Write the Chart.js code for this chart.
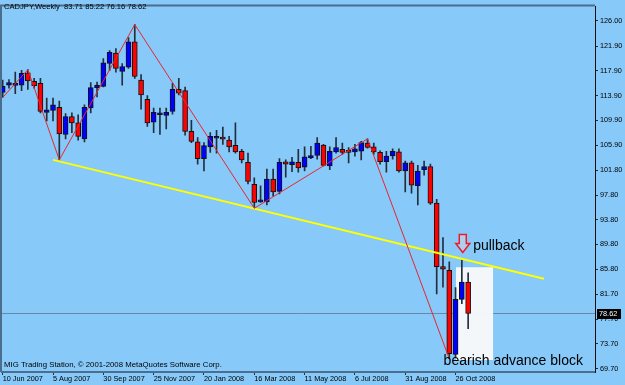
<!DOCTYPE html>
<html>
<head>
<meta charset="utf-8">
<title>CADJPY, Weekly</title>
<script src="https://cdn.jsdelivr.net/npm/chart.js@4.4.0/dist/chart.umd.min.js"></script>
<style>
html, body {margin: 0; padding: 0; background: #87c9f8;}
canvas {display: block;}
</style>
</head>
<body>
<canvas id="chart" width="625" height="385"></canvas>
<script>
//Weekly CADJPY candles, one per week from 10 Jun 2007 to 9 Nov 2008
const opens = [114.4, 115.6, 115.55, 115.6, 117.6, 116.2, 115.9, 111.2, 111.5, 112.0,
	107.6, 110.5, 109.5, 106.9, 111.9, 115.2, 115.4, 119.1, 120.8, 117.8,
	118.5, 122.6, 116.4, 113.3, 109.6, 110.8, 110.7, 111.35, 114.9, 114.7,
	108.1, 106.4, 103.7, 105.6, 107.0, 107.2, 106.7, 105.85, 104.9, 103.1,
	99.55, 96.7, 96.7, 100.4, 98.4, 103.2, 102.7, 103.1, 102.3, 103.8,
	104.2, 105.9, 102.5, 104.8, 105.2, 104.9, 104.8, 104.9, 106.2, 105.6,
	104.7, 103.2, 104.15, 104.8, 101.7, 103.0, 99.3, 101.9, 102.4, 96.5,
	86.2, 85.6, 72.0, 80.9, 83.71];
const highs = [116.4, 116.5, 117.7, 118.0, 118.1, 116.7, 116.7, 113.5, 113.5, 113.0,
	111.0, 111.1, 110.8, 112.4, 116.0, 116.1, 119.9, 121.2, 121.5, 119.1,
	123.3, 125.4, 117.3, 113.9, 111.9, 111.9, 111.9, 115.9, 116.7, 115.3,
	109.9, 107.1, 106.3, 107.9, 108.3, 108.8, 107.3, 109.5, 105.2, 104.6,
	100.6, 99.3, 102.0, 102.0, 103.7, 103.5, 103.9, 105.2, 105.6, 105.7,
	107.1, 106.0, 105.6, 107.1, 106.2, 105.5, 106.0, 106.5, 106.9, 106.2,
	104.95, 104.9, 105.3, 105.3, 103.3, 103.3, 102.6, 103.3, 102.8, 97.1,
	90.9, 87.0, 82.8, 87.3, 85.22];
const lows = [113.6, 115.1, 114.2, 114.7, 114.9, 115.1, 111.1, 109.8, 109.8, 103.5,
	106.9, 107.9, 106.7, 106.4, 111.1, 113.7, 115.3, 118.0, 117.7, 115.6,
	118.3, 116.7, 111.7, 108.9, 107.9, 107.6, 108.5, 110.9, 114.0, 107.5,
	106.3, 102.8, 101.7, 104.7, 104.6, 106.0, 104.8, 104.6, 103.0, 99.6,
	95.65, 96.6, 96.2, 97.6, 98.0, 100.7, 101.6, 101.5, 101.7, 103.7,
	103.6, 102.5, 101.9, 104.6, 104.4, 103.0, 104.1, 103.5, 105.4, 104.4,
	102.8, 101.5, 103.6, 101.5, 98.3, 98.1, 96.2, 101.0, 96.3, 81.8,
	82.9, 71.3, 71.6, 80.2, 76.16];
const closes = [115.4, 116.0, 115.75, 117.5, 116.3, 115.5, 111.35, 111.6, 112.4, 107.7,
	110.5, 109.5, 107.3, 112.0, 115.2, 115.6, 119.2, 120.9, 118.3, 118.6,
	122.6, 117.0, 114.0, 109.5, 111.2, 111.05, 111.2, 114.9, 114.3, 108.1,
	106.5, 103.7, 105.8, 107.3, 107.2, 106.85, 105.6, 104.8, 103.5, 100.0,
	96.6, 96.9, 100.4, 98.3, 103.1, 102.8, 103.2, 102.2, 104.0, 104.2,
	106.2, 102.6, 104.9, 105.5, 104.7, 104.7, 105.3, 106.3, 105.5, 104.8,
	103.2, 104.1, 104.9, 101.7, 103.0, 99.4, 101.7, 102.4, 96.5, 86.2,
	85.8, 72.1, 80.9, 83.7, 78.62];
const tickBars = [0, 8, 16, 24, 32, 40, 48, 56, 64, 72];
const tickDates = ["10 Jun 2007", "5 Aug 2007", "30 Sep 2007", "25 Nov 2007", "20 Jan 2008",
	"16 Mar 2008", "11 May 2008", "6 Jul 2008", "31 Aug 2008", "26 Oct 2008"];
const priceTicks = [69.70, 73.70, 77.70, 81.70, 85.80, 89.80, 93.80, 97.80, 101.80,
	105.90, 109.90, 113.90, 117.90, 121.90, 126.00];
const lastPrice = 78.62;
//ZigZag turning points
const zigBars = [0, 4, 9, 21, 40, 58, 71];
const zigPrices = [113.6, 118.1, 103.5, 125.4, 95.65, 106.9, 71.3];
//Yellow trend line through the lows
const trendBars = [8, 86.06];
const trendPrices = [103.5, 84.24];
//White rectangle over the last weeks
const boxBars = [72.07, 78.0];
const boxPrices = [71.1, 86.1];

const xMin = -0.11, xMax = 94.17;
const yMin = 69.15, yMax = 128.35;

Chart.defaults.font.family = "'Liberation Sans', Arial, sans-serif";
Chart.defaults.font.size = 7.3;
Chart.defaults.color = "#000";

const pt = (xs, ys) => xs.map((x, i) => ({x, y: ys[i]}));

//Frame, captions, arrow and price marker - the bits MT4 draws around the candles
const chrome = {
	id: "chrome",
	afterDatasetsDraw(chart) {
		const {ctx, scales: {x, y}} = chart;
		ctx.save();
		//Down arrow above the pullback
		const ax = x.getPixelForValue(73.15), top = y.getPixelForValue(91.4), tip = y.getPixelForValue(88.5);
		const neck = top + (tip - top) * 0.5;
		ctx.beginPath();
		ctx.moveTo(ax - 3.5, top); ctx.lineTo(ax + 3.5, top); ctx.lineTo(ax + 3.5, neck);
		ctx.lineTo(ax + 7, neck); ctx.lineTo(ax, tip); ctx.lineTo(ax - 7, neck);
		ctx.lineTo(ax - 3.5, neck); ctx.closePath();
		ctx.fillStyle = "rgba(255,220,230,0.35)"; ctx.fill();
		ctx.strokeStyle = "#ee1c24"; ctx.lineWidth = 1.5; ctx.stroke();
		ctx.fillStyle = "#000";
		ctx.font = "14px 'Liberation Sans', Arial, sans-serif";
		ctx.textBaseline = "middle";
		ctx.fillText("pullback", x.getPixelForValue(74.8), y.getPixelForValue(89.5));
		ctx.fillText("bearish advance block", x.getPixelForValue(70.1), y.getPixelForValue(70.9));
		ctx.restore();
	},
	afterDraw(chart) {
		const {ctx, chartArea: area, scales: {y}} = chart;
		ctx.save();
		ctx.strokeStyle = "#4b6d8e"; ctx.lineWidth = 2;
		ctx.beginPath();
		ctx.moveTo(area.left - 1, area.bottom); ctx.lineTo(area.left - 1, area.top - 1); ctx.lineTo(area.right, area.top - 1);
		ctx.stroke();
		ctx.fillStyle = "#000";
		ctx.font = "7.6px 'Liberation Sans', Arial, sans-serif";
		ctx.textBaseline = "middle";
		ctx.fillText("CADJPY,Weekly  83.71 85.22 76.16 78.62", 4, 7);
		ctx.font = "7.8px 'Liberation Sans', Arial, sans-serif";
		ctx.fillText("MIG Trading Station, \u00a9 2001-2008 MetaQuotes Software Corp.", 4, 365);
		//Current price marker on the price axis
		const py = Math.round(y.getPixelForValue(lastPrice));
		ctx.fillRect(597, py - 5, 24, 10);
		ctx.fillStyle = "#fff";
		ctx.font = "7.3px 'Liberation Sans', Arial, sans-serif";
		ctx.fillText(lastPrice.toFixed(2), 599, py);
		ctx.restore();
	},
};

new Chart(document.getElementById("chart"), {
	type: "bar",
	data: {
		datasets: [
			{
				type: "line", order: 0,
				data: pt(zigBars, zigPrices),
				borderColor: "#e8262e", borderWidth: 1, pointRadius: 0,
			},
			{
				type: "line", order: 1,
				data: pt(trendBars, trendPrices),
				borderColor: "#ffff00", borderWidth: 2, pointRadius: 0,
			},
			{
				order: 2, grouped: false,
				data: opens.map((o, i) => ({x: i, y: [o, closes[i]]})),
				backgroundColor: opens.map((o, i) => closes[i] < o ? "#ff0000" : "#0000ff"),
				borderColor: "#111", borderWidth: 1, borderSkipped: false,
				barThickness: 5, minBarLength: 2,
			},
			{
				order: 3, grouped: false,
				data: lows.map((l, i) => ({x: i, y: [l, highs[i]]})),
				backgroundColor: "#22303e", barThickness: 1,
			},
			{
				type: "line", order: 4,
				data: pt(boxBars, [boxPrices[1], boxPrices[1]]),
				borderWidth: 0, pointRadius: 0, fill: "+1",
				backgroundColor: "rgba(248,249,250,0.96)",
			},
			{
				type: "line", order: 4,
				data: pt(boxBars, [boxPrices[0], boxPrices[0]]),
				borderWidth: 0, pointRadius: 0,
			},
			{
				type: "line", order: 5,
				data: pt([xMin, xMax], [lastPrice, lastPrice]),
				borderColor: "#6a87a3", borderWidth: 1, pointRadius: 0,
			},
		],
	},
	options: {
		responsive: false,
		animation: false,
		layout: {padding: {left: 2, top: 2, right: 0, bottom: 0}},
		plugins: {legend: {display: false}, tooltip: {enabled: false}},
		scales: {
			x: {
				type: "linear", min: xMin, max: xMax, offset: false,
				grid: {display: true, offset: false, drawOnChartArea: false, drawTicks: true, tickLength: 3, color: "#22303e"},
				border: {display: true, color: "#4b6d8e", width: 2},
				afterBuildTicks: scale => {scale.ticks = tickBars.map(value => ({value}));},
				afterFit: scale => {scale.height = 13;},
				ticks: {
					autoSkip: false, maxRotation: 0, align: "start", padding: 0,
					callback: (v, i) => tickDates[i],
				},
			},
			y: {
				position: "right", min: yMin, max: yMax,
				grid: {display: true, drawOnChartArea: false, drawTicks: true, tickLength: 3, color: "#22303e"},
				border: {display: true, color: "#111", width: 1},
				afterBuildTicks: scale => {scale.ticks = priceTicks.map(value => ({value}));},
				afterFit: scale => {scale.width = 30;},
				ticks: {autoSkip: false, padding: 2, callback: v => v.toFixed(2)},
			},
		},
	},
	plugins: [chrome],
});
</script>
</body>
</html>
